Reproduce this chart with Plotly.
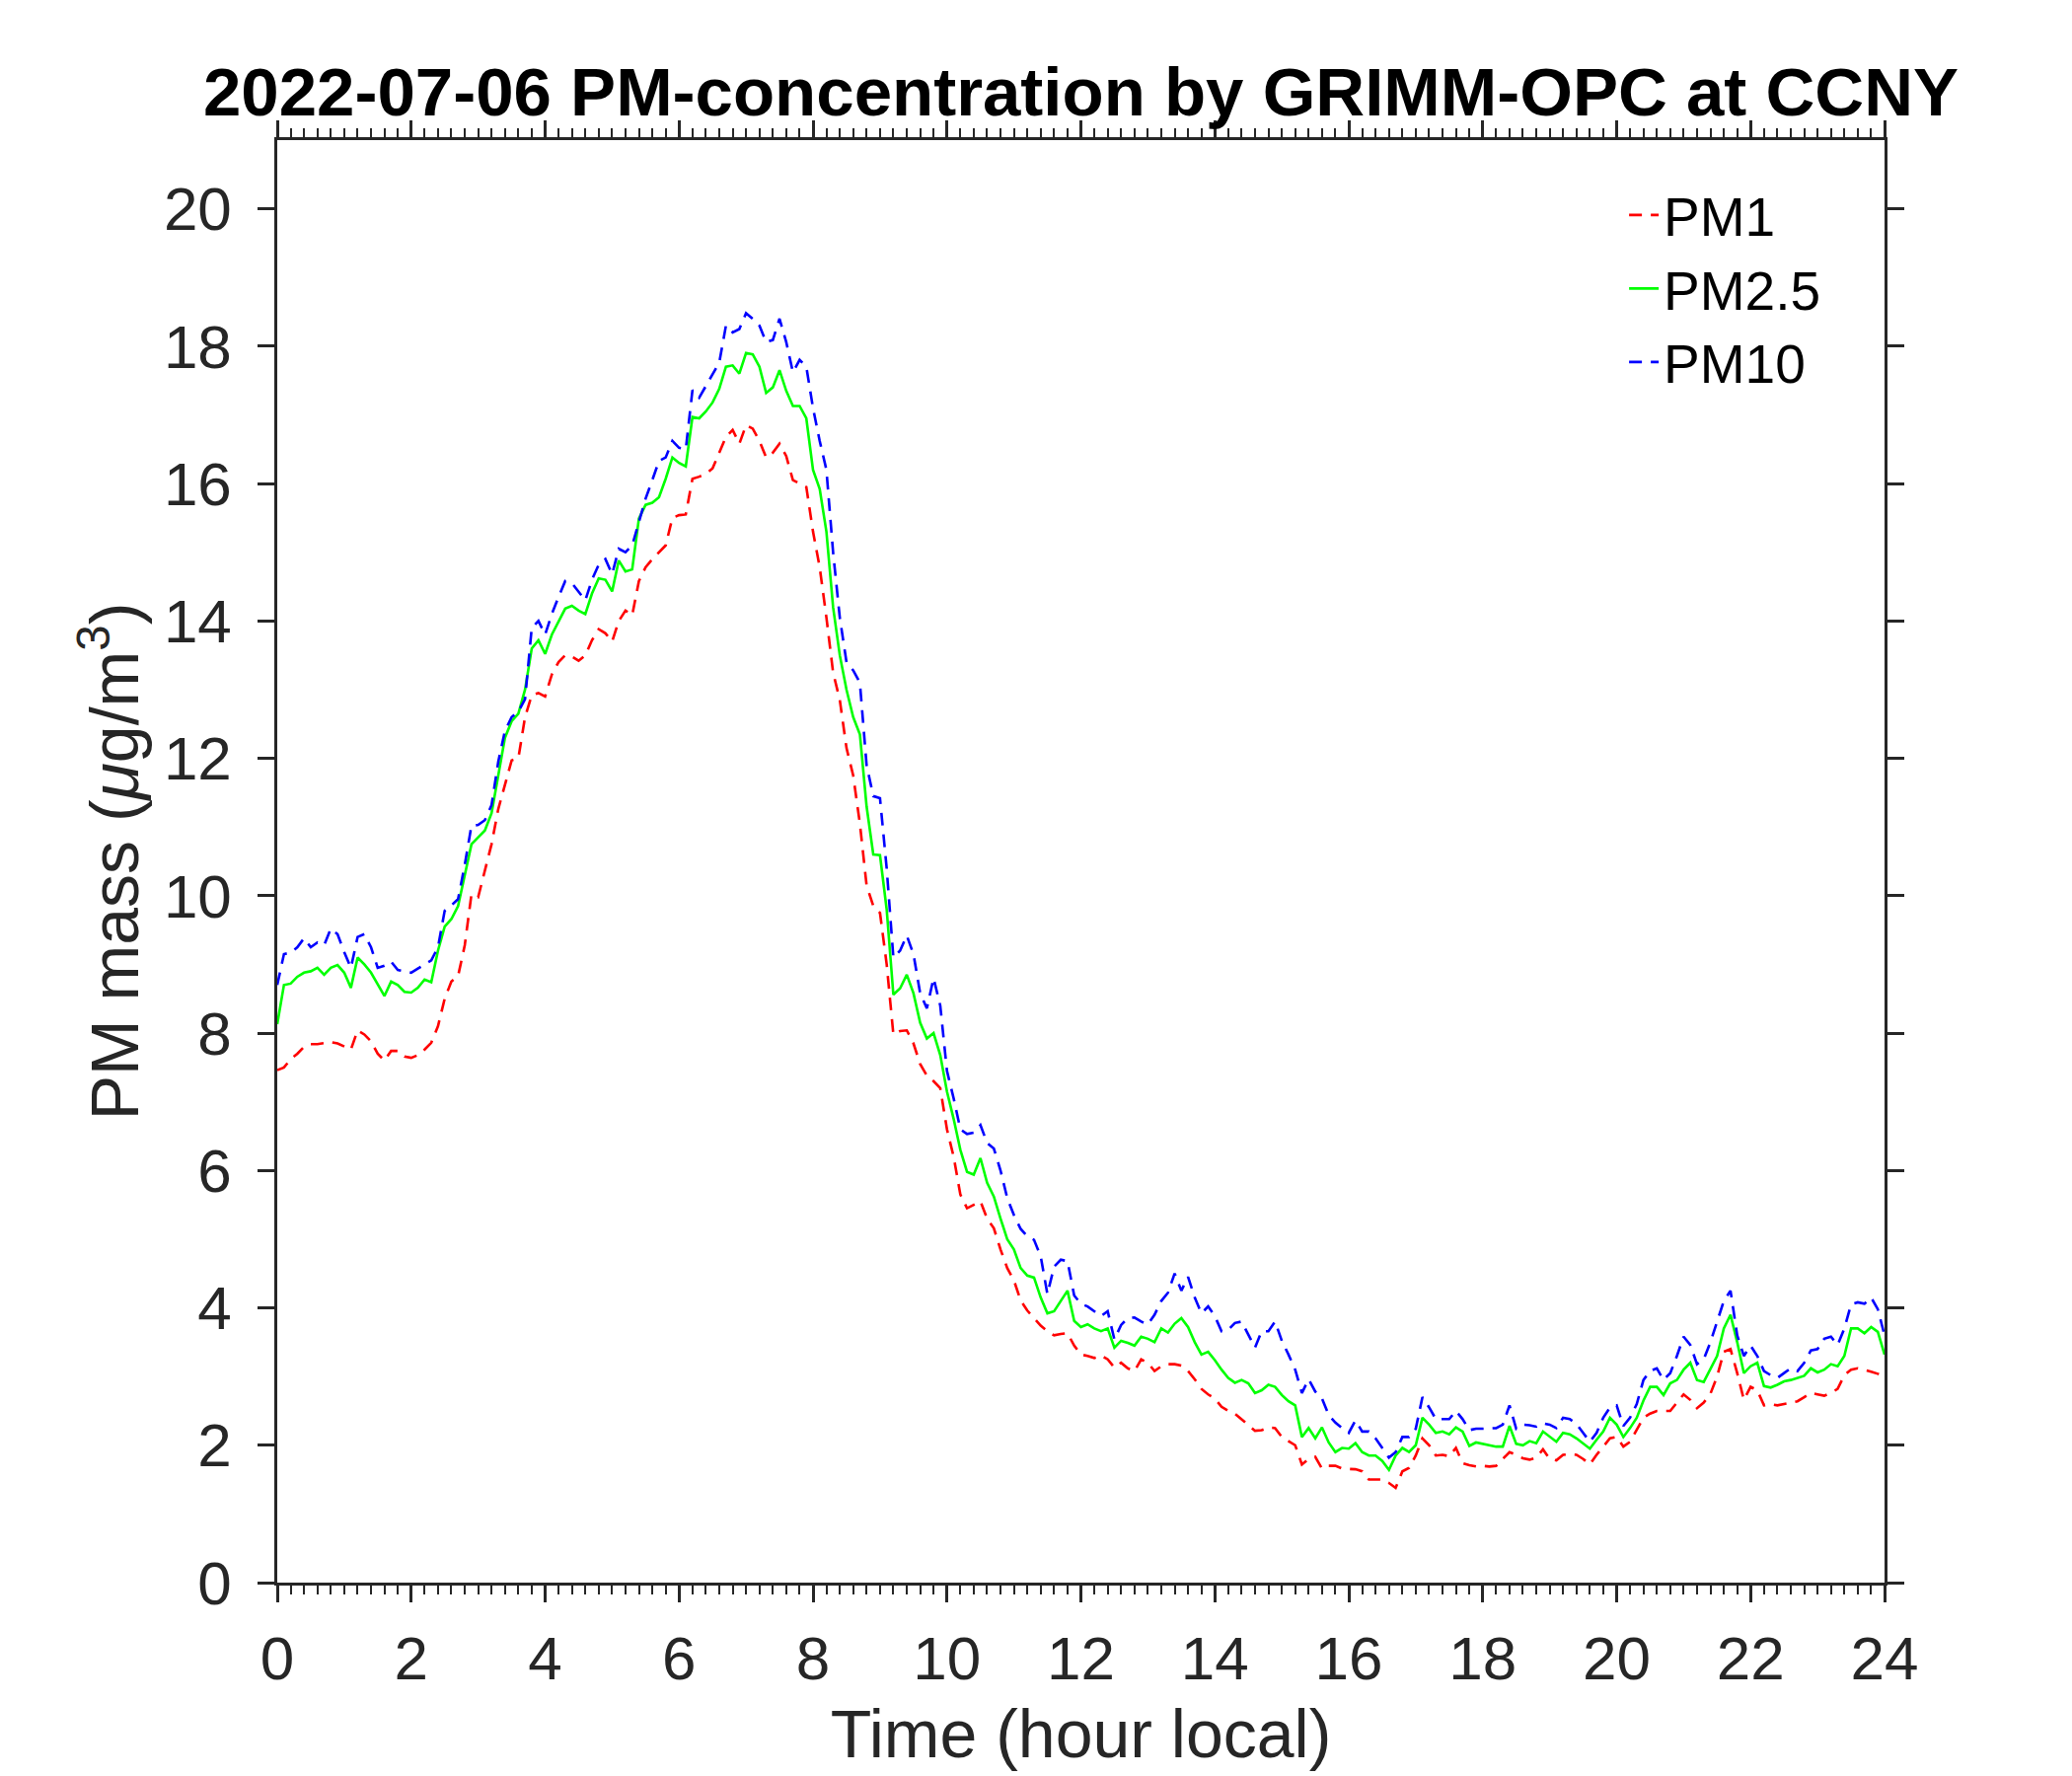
import plotly.graph_objects as go

# Time axis: 0 to 24 hours local, one sample every 0.1 h (x0=0, dx=0.1)
time_start_h = 0.0
time_step_h = 0.1

pm1 = [
    7.46, 7.50, 7.62, 7.70, 7.80, 7.84, 7.84, 7.86, 7.87, 7.85,
    7.80, 7.76, 8.04, 7.98, 7.88, 7.70, 7.60, 7.74, 7.74, 7.66,
    7.64, 7.68, 7.76, 7.86, 8.10, 8.50, 8.75, 8.83, 9.28, 10.02,
    9.98, 10.35, 10.75, 11.26, 11.62, 11.97, 12.00, 12.60, 12.92, 12.95,
    12.90, 13.22, 13.40, 13.50, 13.48, 13.42, 13.50, 13.72, 13.88, 13.82,
    13.70, 14.00, 14.15, 14.08, 14.58, 14.78, 14.90, 15.00, 15.10, 15.50,
    15.54, 15.55, 16.07, 16.10, 16.14, 16.22, 16.45, 16.68, 16.78, 16.58,
    16.85, 16.80, 16.62, 16.38, 16.45, 16.58, 16.40, 16.05, 16.00, 15.95,
    15.30, 14.78, 14.05, 13.25, 12.85, 12.15, 11.75, 11.05, 10.15, 9.85,
    9.75, 9.00, 7.98, 8.03, 8.04, 7.85, 7.55, 7.38, 7.30, 7.20,
    6.60, 6.20, 5.65, 5.45, 5.50, 5.55, 5.30, 5.16, 4.85, 4.58,
    4.40, 4.11, 3.96, 3.85, 3.74, 3.66, 3.60, 3.62, 3.63, 3.45,
    3.32, 3.30, 3.27, 3.31, 3.25, 3.13, 3.20, 3.12, 3.08, 3.25,
    3.20, 3.08, 3.15, 3.18, 3.18, 3.16, 3.08, 2.96, 2.82, 2.74,
    2.68, 2.56, 2.50, 2.46, 2.38, 2.30, 2.21, 2.22, 2.26, 2.25,
    2.12, 2.06, 2.00, 1.72, 1.80, 1.83, 1.66, 1.70, 1.70, 1.66,
    1.66, 1.65, 1.62, 1.50, 1.50, 1.50, 1.45, 1.38, 1.62, 1.67,
    1.85, 2.10, 2.00, 1.85, 1.86, 1.84, 1.96, 1.74, 1.71, 1.69,
    1.70, 1.69, 1.70, 1.80, 1.90, 1.86, 1.81, 1.79, 1.82, 1.94,
    1.80, 1.78, 1.86, 1.87, 1.86, 1.80, 1.72, 1.86, 1.98, 2.10,
    2.12, 1.98, 2.05, 2.22, 2.40, 2.46, 2.50, 2.50, 2.50, 2.62,
    2.74, 2.66, 2.54, 2.62, 2.75, 3.00, 3.36, 3.40, 3.05, 2.66,
    2.85, 2.80, 2.58, 2.60, 2.58, 2.60, 2.62, 2.64, 2.70, 2.76,
    2.74, 2.72, 2.76, 2.82, 3.02, 3.10, 3.12, 3.10, 3.07, 3.04,
    3.00,
]

pm25 = [
    8.13, 8.70, 8.72, 8.82, 8.88, 8.90, 8.95, 8.85, 8.95, 8.99,
    8.88, 8.66, 9.10, 9.00, 8.88, 8.72, 8.54, 8.75, 8.70, 8.60,
    8.59, 8.66, 8.78, 8.74, 9.20, 9.55, 9.66, 9.85, 10.30, 10.75,
    10.85, 10.95, 11.20, 11.75, 12.30, 12.54, 12.65, 13.00, 13.60, 13.72,
    13.52, 13.80, 13.98, 14.18, 14.22, 14.15, 14.10, 14.40, 14.62, 14.60,
    14.43, 14.88, 14.72, 14.75, 15.49, 15.69, 15.72, 15.80, 16.07, 16.38,
    16.30, 16.25, 16.97, 16.95, 17.05, 17.18, 17.38, 17.70, 17.72, 17.60,
    17.90, 17.88, 17.70, 17.32, 17.40, 17.65, 17.35, 17.13, 17.13, 16.95,
    16.20, 15.92, 15.30, 14.20, 13.50, 13.00, 12.60, 12.35, 11.30, 10.60,
    10.59, 9.80, 8.56, 8.65, 8.85, 8.58, 8.15, 7.92, 8.00, 7.68,
    7.15, 6.75, 6.30, 5.98, 5.94, 6.18, 5.82, 5.62, 5.30, 5.00,
    4.85, 4.58, 4.47, 4.44, 4.15, 3.92, 3.95, 4.10, 4.25, 3.81,
    3.72, 3.76, 3.70, 3.66, 3.70, 3.42, 3.52, 3.49, 3.45, 3.58,
    3.55, 3.50, 3.70, 3.64, 3.77, 3.85, 3.72, 3.50, 3.32, 3.36,
    3.24, 3.10, 2.98, 2.91, 2.95, 2.90, 2.76, 2.80, 2.88, 2.85,
    2.73, 2.64, 2.58, 2.12, 2.25, 2.10, 2.26, 2.04, 1.90, 1.96,
    1.95, 2.03, 1.90, 1.85, 1.85, 1.77, 1.64, 1.85, 1.96, 1.90,
    2.00, 2.40, 2.30, 2.18, 2.20, 2.16, 2.26, 2.20, 1.99, 2.04,
    2.02, 2.00, 1.98, 1.98, 2.28, 2.02, 2.00, 2.06, 2.03, 2.20,
    2.12, 2.05, 2.18, 2.16, 2.10, 2.02, 1.95, 2.08, 2.20, 2.40,
    2.30, 2.12, 2.25, 2.40, 2.65, 2.85, 2.85, 2.73, 2.90, 2.95,
    3.10, 3.20, 2.95, 2.92, 3.12, 3.30, 3.70, 3.90, 3.50, 3.05,
    3.15, 3.20, 2.86, 2.84, 2.88, 2.93, 2.95, 2.98, 3.01, 3.12,
    3.06, 3.10, 3.18, 3.15, 3.30, 3.70, 3.70, 3.63, 3.72, 3.65,
    3.32,
]

pm10 = [
    8.70, 9.15, 9.17, 9.25, 9.38, 9.25, 9.32, 9.28, 9.52, 9.44,
    9.18, 8.95, 9.40, 9.44, 9.25, 8.95, 8.98, 9.04, 8.92, 8.90,
    8.88, 8.94, 9.00, 9.06, 9.25, 9.78, 9.86, 9.95, 10.45, 11.02,
    11.03, 11.10, 11.32, 11.95, 12.40, 12.60, 12.68, 12.86, 13.90, 14.00,
    13.80, 14.10, 14.35, 14.58, 14.55, 14.42, 14.30, 14.60, 14.82, 14.90,
    14.68, 15.05, 15.00, 15.10, 15.45, 15.78, 16.05, 16.33, 16.38, 16.62,
    16.52, 16.50, 17.36, 17.25, 17.42, 17.60, 17.76, 18.30, 18.20, 18.25,
    18.48, 18.40, 18.30, 18.06, 18.09, 18.40, 18.06, 17.62, 17.80, 17.70,
    17.10, 16.62, 16.20, 15.00, 14.05, 13.40, 13.28, 13.10, 11.90, 11.45,
    11.42, 10.40, 9.10, 9.20, 9.42, 9.15, 8.58, 8.36, 8.80, 8.40,
    7.45, 7.05, 6.60, 6.53, 6.55, 6.66, 6.40, 6.32, 6.00, 5.60,
    5.35, 5.15, 5.04, 4.99, 4.75, 4.20, 4.60, 4.70, 4.68, 4.18,
    4.06, 4.02, 3.95, 3.88, 3.95, 3.54, 3.75, 3.85, 3.86, 3.80,
    3.76, 3.90, 4.10, 4.22, 4.50, 4.25, 4.45, 4.15, 3.92, 4.02,
    3.88, 3.66, 3.68, 3.78, 3.80, 3.62, 3.42, 3.66, 3.66, 3.80,
    3.52, 3.32, 3.10, 2.76, 2.96, 2.78, 2.68, 2.44, 2.33, 2.25,
    2.18, 2.36, 2.20, 2.20, 2.10, 1.96, 1.82, 1.90, 2.12, 2.12,
    2.24, 2.70, 2.55, 2.38, 2.38, 2.38, 2.50, 2.38, 2.22, 2.24,
    2.24, 2.24, 2.25, 2.30, 2.58, 2.24, 2.30, 2.29, 2.27, 2.32,
    2.30, 2.25, 2.40, 2.38, 2.31, 2.18, 2.05, 2.18, 2.40, 2.55,
    2.58, 2.28, 2.40, 2.60, 2.95, 3.08, 3.12, 2.95, 3.05, 3.30,
    3.58, 3.46, 3.18, 3.25, 3.50, 3.80, 4.10, 4.25, 3.60, 3.30,
    3.45, 3.30, 3.08, 3.02, 2.98, 3.05, 3.12, 3.08, 3.20, 3.38,
    3.40, 3.55, 3.58, 3.46, 3.70, 4.05, 4.08, 4.06, 4.15, 3.98,
    3.60,
]

series_names = ["PM1", "PM2.5", "PM10"]
x_tick_values = [0, 2, 4, 6, 8, 10, 12, 14, 16, 18, 20, 22, 24]
y_tick_values = [0, 2, 4, 6, 8, 10, 12, 14, 16, 18, 20]

FONT = "Liberation Sans, Arial, Helvetica, sans-serif"
AXIS_COLOR = "#262626"

fig = go.Figure()
fig.add_trace(go.Scatter(
    y=pm1, x0=time_start_h, dx=time_step_h, mode="lines", name=series_names[0],
    line=dict(color="#FF0000", width=2.6, dash="13px,9px"),
))
fig.add_trace(go.Scatter(
    y=pm25, x0=time_start_h, dx=time_step_h, mode="lines", name=series_names[1],
    line=dict(color="#00FF00", width=2.6),
))
fig.add_trace(go.Scatter(
    y=pm10, x0=time_start_h, dx=time_step_h, mode="lines", name=series_names[2],
    line=dict(color="#0000FF", width=2.6, dash="13px,9px"),
))

fig.update_layout(
    width=2100, height=1800,
    paper_bgcolor="white", plot_bgcolor="white",
    margin=dict(l=273, r=198, t=134, b=204),
    font=dict(family=FONT, color=AXIS_COLOR, size=60),
    title=dict(
        text="<b>2022-07-06 PM-concentration by GRIMM-OPC at CCNY</b>",
        font=dict(family=FONT, size=69, color="black"),
        x=0.5, xref="paper", xanchor="center",
        y=0.953, yref="container", yanchor="middle",
    ),
    showlegend=True,
    legend=dict(
        x=0.838, y=0.977, xanchor="left", yanchor="top",
        bgcolor="rgba(255,255,255,0)", borderwidth=0,
        font=dict(family=FONT, size=55, color="black"),
        itemwidth=30, tracegroupgap=0,
    ),
    xaxis=dict(
        range=[0, 24], tickmode="array", tickvals=x_tick_values,
        ticks="outside", ticklen=17, tickwidth=2.5, tickcolor=AXIS_COLOR,
        showline=True, linecolor=AXIS_COLOR, linewidth=2.5, mirror="allticks",
        showgrid=False, zeroline=False,
        tickfont=dict(family=FONT, size=62, color=AXIS_COLOR),
        ticklabelstandoff=4,
        minor=dict(dtick=0.2, tick0=0, ticks="outside", ticklen=9, tickwidth=2,
                   tickcolor=AXIS_COLOR, showgrid=False),
        title=dict(text="Time (hour local)", standoff=20,
                   font=dict(family=FONT, size=68, color=AXIS_COLOR)),
    ),
    yaxis=dict(
        range=[0, 21], tickmode="array", tickvals=y_tick_values,
        ticks="outside", ticklen=17, tickwidth=2.5, tickcolor=AXIS_COLOR,
        showline=True, linecolor=AXIS_COLOR, linewidth=2.5, mirror="allticks",
        showgrid=False, zeroline=False,
        tickfont=dict(family=FONT, size=62, color=AXIS_COLOR),
        ticklabelstandoff=14,
        title=dict(text="PM mass (<i>μ</i>g/m<sup>3</sup>)", standoff=4,
                   font=dict(family=FONT, size=68, color=AXIS_COLOR)),
    ),
)

fig.write_html("out.html")
